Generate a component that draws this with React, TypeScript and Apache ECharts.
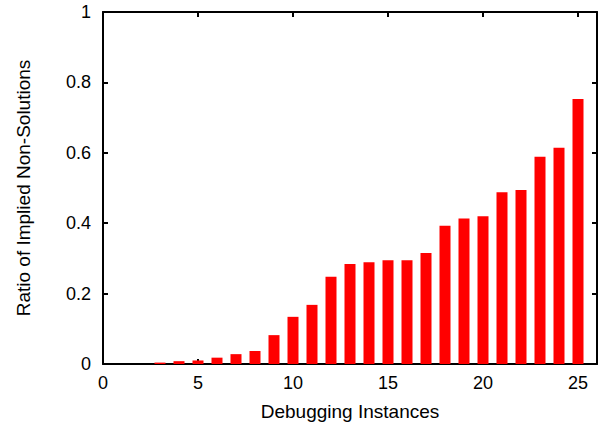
import React, { useEffect, useRef } from "react";
import * as echarts from "echarts";

const instances = [1, 2, 3, 4, 5, 6, 7, 8, 9, 10, 11, 12, 13, 14, 15, 16, 17, 18, 19, 20, 21, 22, 23, 24, 25];
const ratios = [0, 0, 0.004, 0.008, 0.010, 0.018, 0.028, 0.037, 0.082, 0.134, 0.168, 0.248, 0.284, 0.289, 0.295, 0.295, 0.315, 0.393, 0.413, 0.420, 0.488, 0.494, 0.589, 0.614, 0.753];

const xLabel = "Debugging Instances";
const yLabel = "Ratio of Implied Non-Solutions";

export default function App() {
  const ref = useRef<HTMLDivElement>(null);
  useEffect(() => {
    if (!ref.current) return;
    const chart = echarts.init(ref.current, null, { renderer: "svg" });
    const font = "Liberation Sans, Arial, Helvetica, sans-serif";
    const axisCommon = {
      axisLine: { show: true, onZero: false, lineStyle: { color: "#000", width: 2 } },
      axisTick: { show: true, inside: true, length: 5, lineStyle: { color: "#000", width: 2 } },
      splitLine: { show: false },
    };
    chart.setOption({
      animation: false,
      backgroundColor: "#fff",
      grid: { left: 103, right: 8, top: 12, bottom: 62 },
      xAxis: [
        {
          type: "value",
          min: 0,
          max: 26,
          interval: 5,
          position: "bottom",
          name: xLabel,
          nameLocation: "middle",
          nameGap: 38,
          nameTextStyle: { fontFamily: font, fontSize: 19, color: "#000" },
          axisLabel: { fontFamily: font, fontSize: 18, color: "#000", margin: 10, showMaxLabel: false },
          ...axisCommon,
        },
        {
          type: "value",
          min: 0,
          max: 26,
          interval: 5,
          position: "top",
          axisLabel: { show: false },
          ...axisCommon,
        },
      ],
      yAxis: [
        {
          type: "value",
          min: 0,
          max: 1,
          interval: 0.2,
          position: "left",
          name: yLabel,
          nameLocation: "middle",
          nameGap: 70,
          nameTextStyle: { fontFamily: font, fontSize: 19, color: "#000" },
          axisLabel: { fontFamily: font, fontSize: 18, color: "#000", margin: 12 },
          ...axisCommon,
        },
        {
          type: "value",
          min: 0,
          max: 1,
          interval: 0.2,
          position: "right",
          axisLabel: { show: false },
          ...axisCommon,
        },
      ],
      series: [
        {
          type: "bar",
          xAxisIndex: 0,
          yAxisIndex: 0,
          barWidth: 11,
          itemStyle: { color: "#ff0000" },
          data: instances.map((x, i) => [x, ratios[i]]),
        },
      ],
    });
    return () => chart.dispose();
  }, []);
  return <div ref={ref} style={{ width: 605, height: 426, position: "absolute", left: 0, top: 0 }} />;
}
